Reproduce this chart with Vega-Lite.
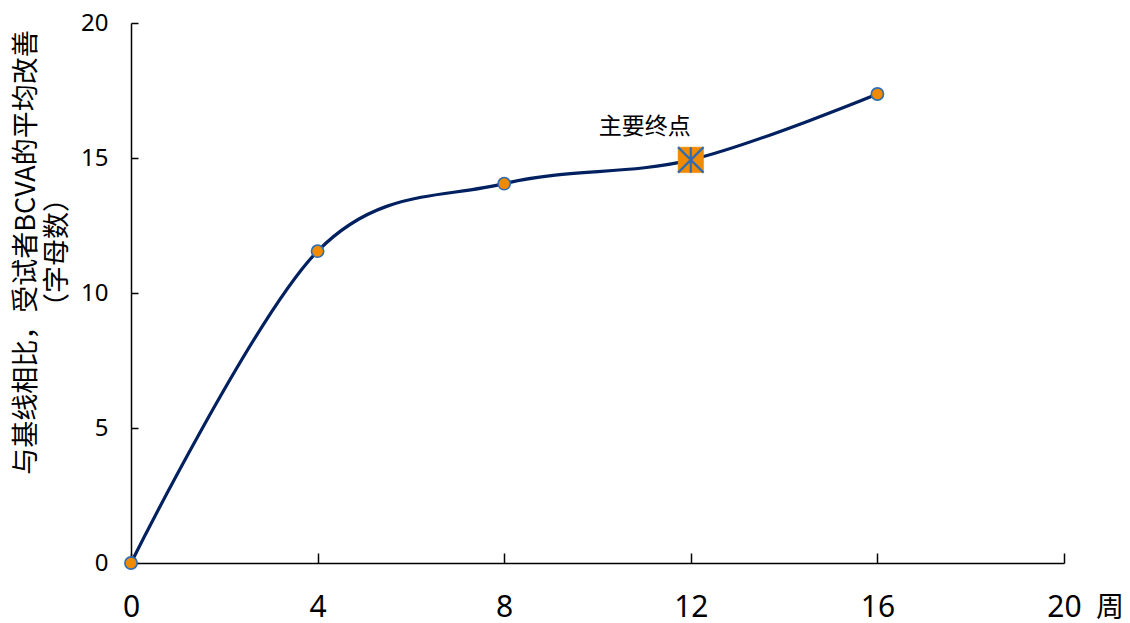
{
  "$schema": "https://vega.github.io/schema/vega-lite/v6.json",
  "width": 933,
  "height": 540,
  "autosize": "none",
  "padding": {"left": 131, "top": 23, "right": 66, "bottom": 60},
  "background": "white",
  "config": {
    "view": {"stroke": null},
    "font": "Noto Sans CJK SC"
  },
  "data": {
    "values": [
      {"week": 0, "change": 0, "label": ""},
      {"week": 4, "change": 11.55, "label": ""},
      {"week": 8, "change": 14.05, "label": ""},
      {"week": 12, "change": 14.93, "label": "主要终点"},
      {"week": 16, "change": 17.37, "label": ""}
    ]
  },
  "encoding": {
    "x": {
      "field": "week",
      "type": "quantitative",
      "scale": {"domain": [0, 20], "nice": false, "zero": false},
      "axis": {
        "values": [0, 4, 8, 12, 16, 20],
        "title": null,
        "grid": false,
        "domainColor": "black",
        "domainWidth": 1.5,
        "tickColor": "black",
        "tickWidth": 1.5,
        "tickSize": -10,
        "labelPadding": 39,
        "labelFontSize": 30,
        "labelColor": "black",
        "labelFont": "Noto Sans",
        "labelFlush": false
      }
    },
    "y": {
      "field": "change",
      "type": "quantitative",
      "scale": {"domain": [0, 20], "nice": false},
      "axis": {
        "values": [0, 5, 10, 15, 20],
        "grid": false,
        "title": ["与基线相比，受试者BCVA的平均改善", "（字母数）"],
        "titleFontSize": 27,
        "titleFontWeight": "normal",
        "titleColor": "black",
        "titleLineHeight": 31,
        "titleAngle": -90,
        "titleBaseline": "top",
        "titleAlign": "center",
        "titleX": -118,
        "titleY": 229,
        "domainColor": "black",
        "domainWidth": 1.5,
        "tickColor": "black",
        "tickWidth": 1.5,
        "tickSize": -7,
        "labelPadding": 30,
        "labelFontSize": 24,
        "labelColor": "black",
        "labelFont": "Noto Sans",
        "labelFlush": false
      }
    }
  },
  "layer": [
    {
      "mark": {"type": "line", "interpolate": "cardinal", "color": "#002060", "strokeWidth": 3.2}
    },
    {
      "transform": [{"filter": "datum.week != 12"}],
      "mark": {"type": "point", "shape": "circle", "filled": true, "fill": "#F08A00", "stroke": "#2E6DB4", "strokeWidth": 1.6, "size": 150, "opacity": 1}
    },
    {
      "transform": [{"filter": "datum.week == 12"}],
      "mark": {"type": "point", "shape": "square", "filled": true, "fill": "#F08A00", "stroke": "#F08A00", "strokeWidth": 0.5, "size": 650, "opacity": 1}
    },
    {
      "transform": [{"filter": "datum.week == 12"}],
      "mark": {"type": "point", "shape": "M0,-1L0,1M-1,-1L1,1M-1,1L1,-1", "filled": false, "stroke": "#2E6DB4", "strokeWidth": 2.2, "size": 650, "opacity": 1}
    },
    {
      "transform": [{"filter": "datum.week == 12"}],
      "mark": {"type": "text", "dx": -46, "dy": -33, "fontSize": 23, "color": "black", "align": "center", "baseline": "middle"},
      "encoding": {"text": {"field": "label"}}
    },
    {
      "data": {"values": [{"week": 20, "change": 0, "unit": "周"}]},
      "mark": {"type": "text", "dx": 46, "dy": 46, "fontSize": 28, "color": "black", "align": "center", "baseline": "middle", "clip": false},
      "encoding": {"text": {"field": "unit"}}
    }
  ]
}
